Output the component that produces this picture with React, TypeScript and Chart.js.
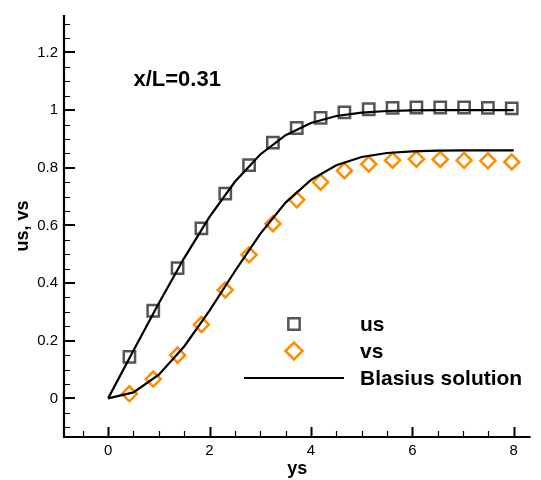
import React, { useEffect, useRef } from "react";
import { Chart, registerables } from "chart.js";

Chart.register(...registerables);

// ---- data ----
const markerX = [0.42, 0.89, 1.37, 1.84, 2.31, 2.78, 3.25, 3.72, 4.19, 4.66, 5.14, 5.61, 6.08, 6.55, 7.02, 7.49, 7.96];
const usValues = [0.144, 0.304, 0.452, 0.59, 0.71, 0.809, 0.887, 0.938, 0.973, 0.992, 1.003, 1.008, 1.009, 1.009, 1.009, 1.008, 1.006];
const vsValues = [0.016, 0.067, 0.15, 0.256, 0.376, 0.498, 0.606, 0.689, 0.75, 0.79, 0.813, 0.826, 0.83, 0.829, 0.826, 0.824, 0.82];

const blasiusX = [0, 0.5, 1, 1.5, 2, 2.5, 3, 3.5, 4, 4.5, 5, 5.5, 6, 6.5, 7, 7.5, 8];
const blasiusU = [0, 0.1659, 0.3298, 0.4868, 0.6298, 0.7513, 0.8461, 0.9131, 0.9555, 0.9795, 0.9916, 0.9969, 0.999, 0.9997, 0.9999, 1.0, 1.0];
const blasiusV = [0, 0.0207, 0.0821, 0.1801, 0.3048, 0.441, 0.5708, 0.6791, 0.7582, 0.8088, 0.8374, 0.8512, 0.8572, 0.8595, 0.8601, 0.8604, 0.8604];

const xMajorTicks = [0, 2, 4, 6, 8];
const xMinorTicks = [-0.5, 0.5, 1, 1.5, 2.5, 3, 3.5, 4.5, 5, 5.5, 6.5, 7, 7.5];
const yMajorTicks = [0, 0.2, 0.4, 0.6, 0.8, 1, 1.2];
const yMinorTicks = [-0.1, -0.05, 0.05, 0.1, 0.15, 0.25, 0.3, 0.35, 0.45, 0.5, 0.55, 0.65, 0.7, 0.75, 0.85, 0.9, 0.95, 1.05, 1.1, 1.15, 1.25, 1.3];

const seriesLabels = ["us", "vs", "Blasius solution"];
const annotationText = "x/L=0.31";
const xTitle = "ys";
const yTitle = "us, vs";

const FONT = "'Liberation Sans', Arial, Helvetica, sans-serif";
const SQUARE_COLOR = "#555555";
const DIAMOND_COLOR = "#ff8c00";

function fmt(v: number) {
  return String(Math.round(v * 100) / 100);
}

function drawSquare(ctx: CanvasRenderingContext2D, x: number, y: number, r: number) {
  const s = Math.SQRT1_2 * r;
  ctx.beginPath();
  ctx.rect(x - s, y - s, 2 * s, 2 * s);
  ctx.stroke();
}
function drawDiamond(ctx: CanvasRenderingContext2D, x: number, y: number, r: number) {
  ctx.beginPath();
  ctx.moveTo(x - r, y);
  ctx.lineTo(x, y - r);
  ctx.lineTo(x + r, y);
  ctx.lineTo(x, y + r);
  ctx.closePath();
  ctx.stroke();
}

const overlayPlugin = {
  id: "overlay",
  afterDatasetsDraw(chart: any) {
    const ctx: CanvasRenderingContext2D = chart.ctx;
    const { left, right, top, bottom } = chart.chartArea;
    const xs = chart.scales.x;
    const ys = chart.scales.y;
    ctx.save();
    ctx.strokeStyle = "#000";
    ctx.lineCap = "butt";
    // axes
    ctx.lineWidth = 2.2;
    ctx.beginPath();
    ctx.moveTo(left, top);
    ctx.lineTo(left, bottom + 1.1);
    ctx.moveTo(left - 1.1, bottom);
    ctx.lineTo(right, bottom);
    ctx.stroke();
    // major ticks
    ctx.lineWidth = 2;
    ctx.beginPath();
    xMajorTicks.forEach((v) => {
      const px = Math.round(xs.getPixelForValue(v)) + 0.5;
      ctx.moveTo(px, bottom);
      ctx.lineTo(px, bottom - 10);
    });
    yMajorTicks.forEach((v) => {
      const py = Math.round(ys.getPixelForValue(v));
      ctx.moveTo(left, py);
      ctx.lineTo(left + 11, py);
    });
    ctx.stroke();
    // minor ticks
    ctx.lineWidth = 1.2;
    ctx.beginPath();
    xMinorTicks.forEach((v) => {
      const px = Math.round(xs.getPixelForValue(v)) + 0.5;
      ctx.moveTo(px, bottom);
      ctx.lineTo(px, bottom - 6);
    });
    yMinorTicks.forEach((v) => {
      const py = Math.round(ys.getPixelForValue(v)) + 0.5;
      ctx.moveTo(left, py);
      ctx.lineTo(left + 6, py);
    });
    ctx.stroke();

    // annotation
    ctx.fillStyle = "#000";
    ctx.font = `bold 22px ${FONT}`;
    ctx.textAlign = "left";
    ctx.textBaseline = "middle";
    ctx.fillText(annotationText, xs.getPixelForValue(0.5), ys.getPixelForValue(1.105));

    // legend
    const mx = 294;
    const tx = 360;
    const rows = [324, 351, 378];
    ctx.lineWidth = 2.5;
    ctx.strokeStyle = SQUARE_COLOR;
    drawSquare(ctx, mx, rows[0], 8);
    ctx.strokeStyle = DIAMOND_COLOR;
    drawDiamond(ctx, mx, rows[1], 8.5);
    ctx.strokeStyle = "#000";
    ctx.lineWidth = 2.2;
    ctx.beginPath();
    ctx.moveTo(244, rows[2]);
    ctx.lineTo(344, rows[2]);
    ctx.stroke();
    ctx.font = `bold 21px ${FONT}`;
    ctx.fillStyle = "#000";
    seriesLabels.forEach((t, i) => ctx.fillText(t, tx, rows[i] + 1));
    ctx.restore();
  },
};

export default function App() {
  const ref = useRef<HTMLCanvasElement | null>(null);
  useEffect(() => {
    if (!ref.current) return;
    const chart = new Chart(ref.current, {
      type: "scatter",
      data: {
        datasets: [
          {
            label: seriesLabels[0],
            data: markerX.map((x, i) => ({ x, y: usValues[i] })),
            pointStyle: "rect",
            pointRadius: 8,
            pointBorderWidth: 2.5,
            pointBorderColor: SQUARE_COLOR,
            pointBackgroundColor: "rgba(0,0,0,0)",
            showLine: false,
            order: 1,
          },
          {
            label: seriesLabels[1],
            data: markerX.map((x, i) => ({ x, y: vsValues[i] })),
            pointStyle: "rectRot",
            pointRadius: 7.5,
            pointBorderWidth: 2.5,
            pointBorderColor: DIAMOND_COLOR,
            pointBackgroundColor: "rgba(0,0,0,0)",
            showLine: false,
            order: 1,
          },
          {
            label: seriesLabels[2],
            data: blasiusX.map((x, i) => ({ x, y: blasiusU[i] })),
            showLine: true,
            borderColor: "#000",
            borderWidth: 2.2,
            pointRadius: 0,
            tension: 0,
            order: 0,
          },
          {
            label: seriesLabels[2] + " v",
            data: blasiusX.map((x, i) => ({ x, y: blasiusV[i] })),
            showLine: true,
            borderColor: "#000",
            borderWidth: 2.2,
            pointRadius: 0,
            tension: 0,
            order: 0,
          },
        ],
      },
      options: {
        animation: false,
        responsive: false,
        maintainAspectRatio: false,
        layout: { padding: { top: 10, right: 9, left: 0, bottom: 0 } },
        plugins: { legend: { display: false }, tooltip: { enabled: false } },
        scales: {
          x: {
            type: "linear",
            min: -0.87,
            max: 8.33,
            grid: { display: false, drawTicks: false },
            border: { display: false },
            afterBuildTicks: (s: any) => {
              s.ticks = xMajorTicks.map((v) => ({ value: v }));
            },
            afterFit: (s: any) => {
              s.height = 43;
            },
            ticks: {
              padding: 5,
              color: "#000",
              font: { family: FONT, size: 15 },
              maxRotation: 0,
              callback: (v: any) => fmt(Number(v)),
            },
            title: {
              display: true,
              text: xTitle,
              color: "#000",
              font: { family: FONT, size: 18, weight: "bold" },
              padding: { top: 0, bottom: 0 },
            },
          },
          y: {
            type: "linear",
            min: -0.134,
            max: 1.33,
            grid: { display: false, drawTicks: false },
            border: { display: false },
            afterBuildTicks: (s: any) => {
              s.ticks = yMajorTicks.map((v) => ({ value: v }));
            },
            afterFit: (s: any) => {
              s.width = 64;
            },
            ticks: {
              padding: 6,
              color: "#000",
              font: { family: FONT, size: 15 },
              callback: (v: any) => fmt(Number(v)),
            },
            title: {
              display: true,
              text: yTitle,
              color: "#000",
              font: { family: FONT, size: 18, weight: "bold" },
              padding: { top: 12, bottom: 0 },
            },
          },
        },
      },
      plugins: [overlayPlugin],
    });
    return () => chart.destroy();
  }, []);
  return (
    <div style={{ position: "fixed", left: 0, top: 0, width: 541, height: 480, background: "#fff" }}>
      <canvas ref={ref} width={541} height={480} style={{ width: 541, height: 480, display: "block" }} />
    </div>
  );
}
